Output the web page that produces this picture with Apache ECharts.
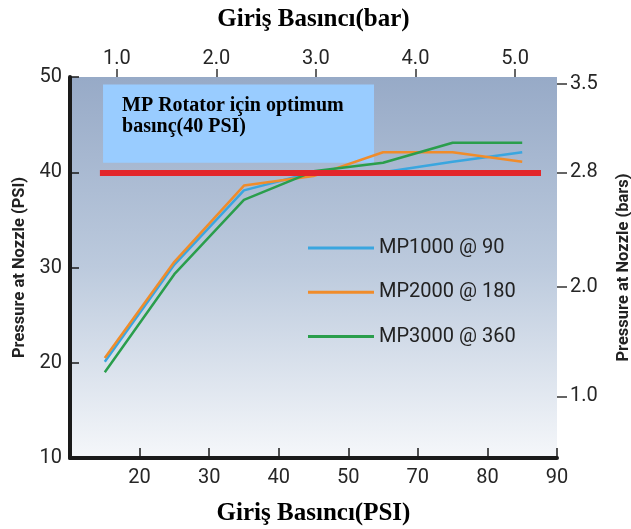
<!DOCTYPE html>
<html>
<head>
<meta charset="utf-8">
<script src="https://cdn.jsdelivr.net/npm/echarts@6/dist/echarts.min.js"></script>
<style>
html,body{margin:0;padding:0;background:#fff;}
#chart{width:631px;height:529px;}
</style>
</head>
<body>
<div id="chart"></div>
<script>
// Inlet pressure slots (PSI axis units as drawn)
var inletPsi = [15, 25, 35, 45, 55, 65, 75];
// Nozzle pressure (PSI) per model
var mp1000 = [20.1, 30.3, 38.1, 40.0, 40.0, 41.1, 42.1];
var mp2000 = [20.5, 30.6, 38.6, 39.6, 42.1, 42.1, 41.1];
var mp3000 = [19.0, 29.3, 37.1, 40.1, 41.0, 43.1, 43.1];
var seriesNames = ['MP1000 @ 90', 'MP2000 @ 180', 'MP3000 @ 360'];
// Bottom axis tick labels (as printed in the original)
var bottomTickLabels = ['', '20', '30', '40', '50', '70', '80', '90'];
// Top axis (bar) ticks
var topTickValues = [1, 2, 3, 4, 5];
// Right axis (bars) ticks and the PSI height they are printed at
var rightTickLabels = ['3.5', '2.8', '2.0', '1.0'];
var rightTickAt = [49.3, 40, 27.95, 16.46];
// Optimum pressure reference
var optimumPsi = 40;
var optimumText = 'MP Rotator için optimum\nbasınç(40 PSI)';

function pairs(vals) { return inletPsi.map(function (x, i) { return [x, vals[i]]; }); }

var chart = echarts.init(document.getElementById('chart'));
var sans = 'Roboto';
var serif = 'Liberation Serif';
var lineW = 2.5;
var labelColor = '#262626';

chart.setOption({
  animation: false,
  grid: {
    left: 70, top: 77, width: 487, height: 381,
    containLabel: false, outerBoundsMode: 'none',
    show: true, borderWidth: 0,
    backgroundColor: new echarts.graphic.LinearGradient(0, 0, 0, 1, [
      {offset: 0, color: '#97aac7'},
      {offset: 0.5, color: '#bccadd'},
      {offset: 1, color: '#f5f7fa'}
    ])
  },
  legend: {
    orient: 'vertical', left: 308, top: 238, padding: 0,
    itemWidth: 66, itemHeight: 3, itemGap: 24.3, icon: 'rect',
    data: seriesNames,
    textStyle: {fontFamily: sans, fontSize: 20, color: '#222'}
  },
  xAxis: [{
    type: 'value', position: 'bottom', min: 10, max: 80, interval: 10,
    name: 'Giriş Basıncı(PSI)', nameLocation: 'middle', nameGap: 43,
    nameTextStyle: {fontFamily: serif, fontWeight: 'bold', fontSize: 25, color: '#000'},
    axisLine: {lineStyle: {color: '#1a1a1a', width: 4}},
    axisTick: {inside: true, length: 10, lineStyle: {color: '#1a1a1a', width: 1.5}},
    axisLabel: {fontFamily: sans, fontSize: 20, color: labelColor, margin: 10,
      formatter: function (v) { return bottomTickLabels[Math.round((v - 10) / 10)] || ''; }},
    splitLine: {show: false}
  }, {
    type: 'value', position: 'top', min: 0.528, max: 5.422,
    name: 'Giriş Basıncı(bar)', nameLocation: 'middle', nameGap: 45,
    nameTextStyle: {fontFamily: serif, fontWeight: 'bold', fontSize: 25, color: '#000'},
    axisLine: {show: false},
    axisTick: {show: true, length: 8, customValues: topTickValues, lineStyle: {color: '#333', width: 1.5}},
    axisLabel: {fontFamily: sans, fontSize: 20, color: labelColor, margin: 8,
      customValues: topTickValues, formatter: function (v) { return v.toFixed(1); }},
    splitLine: {show: false}
  }],
  yAxis: [{
    type: 'value', position: 'left', min: 10, max: 50, interval: 10,
    name: 'Pressure at Nozzle (PSI)', nameLocation: 'middle', nameGap: 41, nameRotate: 90,
    nameTextStyle: {fontFamily: sans, fontWeight: 'bold', fontSize: 16.5, color: '#222'},
    axisLine: {show: true, lineStyle: {color: '#1a1a1a', width: 4}},
    axisTick: {show: true, inside: true, length: 9, lineStyle: {color: '#1a1a1a', width: 1.5}},
    axisLabel: {fontFamily: sans, fontSize: 20, color: labelColor, margin: 8},
    splitLine: {show: false}
  }, {
    type: 'value', position: 'right', min: 10, max: 50,
    name: 'Pressure at Nozzle (bars)', nameLocation: 'middle', nameGap: 58, nameRotate: 90,
    nameTextStyle: {fontFamily: sans, fontWeight: 'bold', fontSize: 16.5, color: '#222'},
    axisLine: {show: false},
    axisTick: {show: true, length: 10, customValues: rightTickAt, lineStyle: {color: '#333', width: 1.5}},
    axisLabel: {fontFamily: sans, fontSize: 20, color: labelColor, margin: 13,
      customValues: rightTickAt,
      formatter: function (v) {
        for (var i = 0; i < rightTickAt.length; i++) { if (Math.abs(rightTickAt[i] - v) < 1e-6) return rightTickLabels[i]; }
        return '';
      }},
    splitLine: {show: false}
  }],
  series: [
    {
      name: 'optimum', type: 'line', data: [], z: 1, silent: true,
      markLine: {
        silent: true, symbol: ['none', 'none'], animation: false,
        lineStyle: {color: '#e3262b', width: 6, type: 'solid'},
        label: {show: false}, emphasis: {disabled: true},
        data: [[{coord: [14.3, optimumPsi]}, {coord: [77.7, optimumPsi]}]]
      }
    },
    {name: seriesNames[0], type: 'line', data: pairs(mp1000), showSymbol: false, symbol: 'none', z: 3,
      itemStyle: {color: '#3aa6df'}, lineStyle: {color: '#3aa6df', width: lineW}},
    {name: seriesNames[1], type: 'line', data: pairs(mp2000), showSymbol: false, symbol: 'none', z: 3,
      itemStyle: {color: '#f08c2a'}, lineStyle: {color: '#f08c2a', width: lineW}},
    {name: seriesNames[2], type: 'line', data: pairs(mp3000), showSymbol: false, symbol: 'none', z: 3,
      itemStyle: {color: '#2a9e4c'}, lineStyle: {color: '#2a9e4c', width: lineW}},
    {
      name: 'note', type: 'line', data: [], z: 10, silent: true,
      markArea: {
        silent: true,
        itemStyle: {color: '#99ccff', opacity: 1},
        label: {show: true, position: 'insideTopLeft', distance: 0, offset: [19, 11],
          formatter: optimumText, fontFamily: serif, fontWeight: 'bold', fontSize: 20,
          lineHeight: 21, color: '#000'},
        emphasis: {disabled: true},
        data: [[{coord: [14.75, 49.2]}, {coord: [53.7, 41.0]}]]
      }
    }
  ]
});
</script>
</body>
</html>
